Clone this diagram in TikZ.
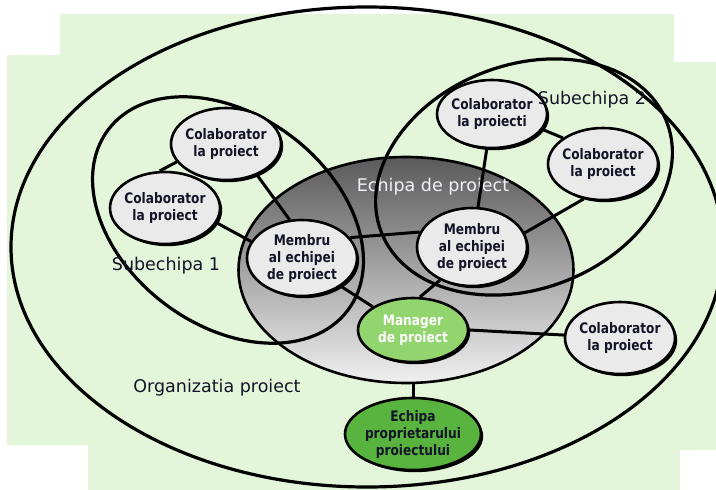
\documentclass[tikz,border=0pt]{standalone}
\usepackage{fontspec}
\setmainfont{DejaVu Sans}
\newfontfamily\nodefont[FakeStretch=0.84]{DejaVu Sans}
\usetikzlibrary{shapes.geometric,shadows}
\definecolor{bggreen}{RGB}{228,246,218}
\definecolor{nodegray}{RGB}{234,234,234}
\definecolor{mgreen}{RGB}{146,212,110}
\definecolor{ogreen}{RGB}{88,180,62}
\definecolor{teamtop}{RGB}{90,90,90}
\definecolor{teambot}{RGB}{240,240,240}
\definecolor{titlewhite}{RGB}{242,242,248}
\definecolor{inktext}{RGB}{20,20,40}
\pgfdeclarelayer{bg}
\pgfdeclarelayer{lines}
\pgfsetlayers{bg,lines,main}
\begin{document}
\begin{tikzpicture}[x=1pt,y=-1pt,
  outline/.style={line width=3.2pt},
  link/.style={line width=3pt},
  person/.style={ellipse, draw=black, line width=2.6pt, fill=nodegray, text=inktext,
    minimum width=110pt, minimum height=72pt, inner sep=-8pt, align=center,
    font=\nodefont\bfseries\fontsize{14.5}{17}\selectfont,
    drop shadow={shadow xshift=2.2pt, shadow yshift=-2.2pt, fill=black, opacity=1}},
  grouptitle/.style={font=\fontsize{17.5}{20}\selectfont, inner sep=0pt, text=inktext}
]
\useasboundingbox (0,0) rectangle (716,490);

% nodes
\node[person] (c1) at (226,144) {Colaborator\\la proiect};
\node[person] (c2) at (165,208) {Colaborator\\la proiect};
\node[person, minimum height=76pt] (m1) at (302,258) {Membru\\al echipei\\de proiect};
\node[person, minimum height=78pt] (m2) at (472,247) {Membru\\al echipei\\de proiect};
\node[person, minimum height=68pt] (c3) at (492,114) {Colaborator\\la proiecti};
\node[person] (c4) at (603,164) {Colaborator\\la proiect};
\node[person, fill=mgreen, text=white, minimum height=64pt] (mgr) at (413,330) {Manager\\de proiect};
\node[person] (c5) at (620,338) {Colaborator\\la proiect};
\node[person, fill=ogreen, minimum width=136pt, minimum height=72pt] (own) at (413,434) {Echipa\\proprietarului\\proiectului};

% titles
\node[grouptitle] (s1) at (166,266) {Subechipa 1};
\node[grouptitle] (s2) at (592,100) {Subechipa 2};
\node[grouptitle] (org) at (217,388) {Organizatia proiect};

\begin{pgfonlayer}{bg}
\fill[bggreen] (60,14) -- (674,14) -- (674,62) -- (716,62) -- (716,450) -- (680,450)
  -- (680,490) -- (88,490) -- (88,445) -- (7,445) -- (7,55) -- (60,55) -- cycle;
\draw[outline] (367,247) ellipse [x radius=356, y radius=240];
\node[ellipse, draw=black, line width=2.6pt, top color=teamtop, bottom color=teambot,
  minimum width=335pt, minimum height=226pt, inner sep=0pt] (team) at (406,270) {};
\node[grouptitle, text=titlewhite] (tt) at (433,187) {Echipa de proiect};
\draw[outline, rotate around={-37:(228,220)}] (228,220) ellipse [x radius=150, y radius=105];
\draw[outline, rotate around={21:(524,177)}] (524,177) ellipse [x radius=153, y radius=112];
\end{pgfonlayer}

\begin{pgfonlayer}{lines}
\draw[link] (c1.-45) -- (m1.108);
\draw[link] (c2.98) -- (c1.200);
\draw[link] (c2.-16) -- (m1.162);
\draw[link] (m1.23) -- (m2.164);
\draw[link] (m1.-36) -- (mgr.150);
\draw[link] (m2.-134) -- (mgr.78);
\draw[link] (c3) -- (m2);
\draw[link] (m2.15) -- (c4.-119);
\draw[link] (c3.-17) -- (c4.147);
\draw[link] (mgr.0) -- (c5.177);
\draw[link] (own.north) -- (own.north |- team.south);
\end{pgfonlayer}
\end{tikzpicture}
\end{document}
